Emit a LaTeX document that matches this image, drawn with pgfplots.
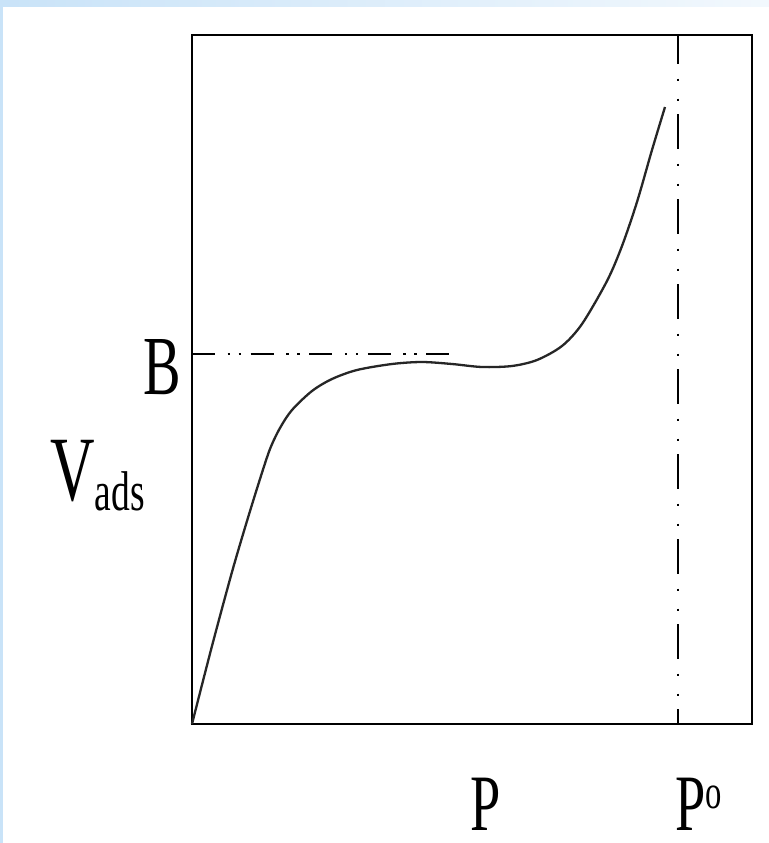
\documentclass[border=0pt]{standalone}
\usepackage{fontspec}
\setmainfont{Liberation Serif}
\usepackage{graphicx}
\usepackage{pgfplots}
\pgfplotsset{compat=1.18}
\definecolor{edgeblue}{HTML}{C9E3F8}
\definecolor{edgepale}{HTML}{F2F8FD}
\begin{document}
\begin{tikzpicture}
\useasboundingbox (-96pt,-59.5pt) rectangle (288.5pt,362pt);
\fill[white] (-96pt,-59.5pt) rectangle (288.5pt,362pt);
\fill[edgeblue] (-96pt,-59.5pt) rectangle (-94.5pt,362pt);
\shade[left color=edgeblue, right color=edgepale] (-96pt,359pt) rectangle (288.5pt,362pt);
\begin{axis}[
  scale only axis,
  width=280pt, height=344.5pt,
  xmin=0, xmax=560, ymin=0, ymax=689,
  xtick=\empty, ytick=\empty,
  axis line style={line width=1pt},
  clip=false,
]
% adsorption isotherm (type II)
\addplot[black!85, line width=1.15pt, smooth] coordinates {
  (0,0) (20,78) (40,152) (55,203) (68,245) (78,275) (88,296) (100,314)
  (120,333) (140,345) (165,354) (200,360) (230,362) (260,360) (290,357)
  (320,358) (345,364) (370,378) (390,400) (415,443) (430,478)
  (445,522) (460,574) (473,617)
};
% monolayer level B
\addplot[black, line width=0.95pt,
  dash pattern=on 11.5pt off 6.3pt on 1.2pt off 4.3pt on 1.2pt off 4.8pt]
  coordinates {(0,370) (263,370)};
% saturation pressure
\addplot[black, line width=0.95pt,
  dash pattern=on 17.5pt off 7.3pt on 1.2pt off 8.8pt on 1.2pt off 6.5pt,
  dash phase=3pt]
  coordinates {(486,689) (486,0)};
\node[anchor=center, inner sep=0] at (axis cs:-30,356.5)
  {\scalebox{0.67}[1]{\fontsize{42}{42}\selectfont B}};
\node[anchor=north west, inner sep=0] at (axis cs:-142,284)
  {\scalebox{0.67}[1]{\fontsize{46}{46}\selectfont V\fontsize{28}{28}\selectfont\raisebox{-5pt}{ads}}};
\node[anchor=north west, inner sep=0] at (axis cs:278,-54)
  {\scalebox{0.68}[1]{\fontsize{40}{40}\selectfont P}};
\node[anchor=north west, inner sep=0] at (axis cs:483,-54)
  {\scalebox{0.68}[1]{\fontsize{40}{40}\selectfont P\raisebox{11pt}{\fontsize{24}{24}\selectfont o}}};
\end{axis}
\end{tikzpicture}
\end{document}
